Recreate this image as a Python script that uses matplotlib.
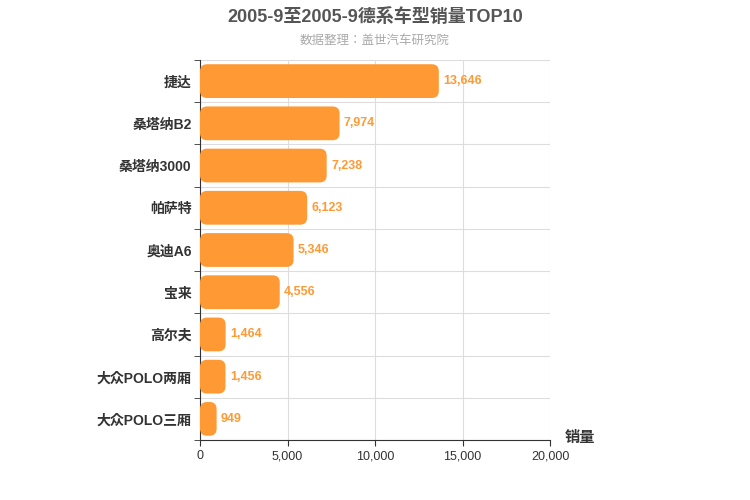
import matplotlib.pyplot as plt
from matplotlib.patches import FancyBboxPatch

plt.rcParams['font.family'] = ['Liberation Sans', 'Noto Sans CJK JP']

models = ['捷达', '桑塔纳B2', '桑塔纳3000', '帕萨特', '奥迪A6', '宝来', '高尔夫', '大众POLO两厢', '大众POLO三厢']
sales = [13646, 7974, 7238, 6123, 5346, 4556, 1464, 1456, 949]
xticks = [0, 5000, 10000, 15000, 20000]

fig = plt.figure(figsize=(7.5, 5), dpi=100)
ax = fig.add_axes([200/750, 60/500, 350/750, 380/500])

n = len(models)
ys = list(range(n))[::-1]
bh = 0.8
# pixel scales for rounded corners
xu = 20000/350
yu = n/380
r = 7
for y, v, m in zip(ys, sales, models):
    p = FancyBboxPatch((0, y - bh/2), v, bh,
                       boxstyle="round,pad=0,rounding_size=%f" % (r*xu),
                       mutation_aspect=yu/xu, fc='#ff9933', ec='none', zorder=3)
    ax.add_patch(p)
    ax.text(v + 250, y, f'{v:,}', va='center', ha='left', color='#ff9933',
            fontsize=9, fontweight='bold', zorder=4)

ax.set_xlim(0, 20000)
ax.set_ylim(-0.5, n - 0.5)
ax.set_xticks(xticks)
ax.set_xticklabels([f'{t:,}' for t in xticks], fontsize=9, color='#333333')
ax.set_yticks(ys)
ax.set_yticklabels(models, fontsize=10, fontweight='bold', color='#333333')
ax.set_yticks([i + 0.5 for i in range(-1, n)], minor=True)
ax.tick_params(axis='y', which='major', length=0, pad=6)
ax.tick_params(axis='y', which='minor', length=4, color='#333333')
ax.tick_params(axis='x', length=4, color='#333333')
ax.grid(axis='x', color='#dddddd', lw=0.8, zorder=0)
ax.grid(axis='y', which='minor', color='#dddddd', lw=0.8, zorder=0)
for s in ['top', 'right']:
    ax.spines[s].set_visible(False)
ax.spines['left'].set_color('#333333')
ax.spines['bottom'].set_color('#333333')

fig.text(0.5, 0.965, '2005-9至2005-9德系车型销量TOP10', ha='center', va='center',
         fontsize=13, fontweight='bold', color='#555555')
fig.text(0.5, 0.918, '数据整理：盖世汽车研究院', ha='center', va='center',
         fontsize=9, color='#aaaaaa')
fig.text(565/750, 1 - 438/500, '销量', ha='left', va='center', fontsize=11,
         fontweight='bold', color='#333333')

fig.savefig('out.png')
